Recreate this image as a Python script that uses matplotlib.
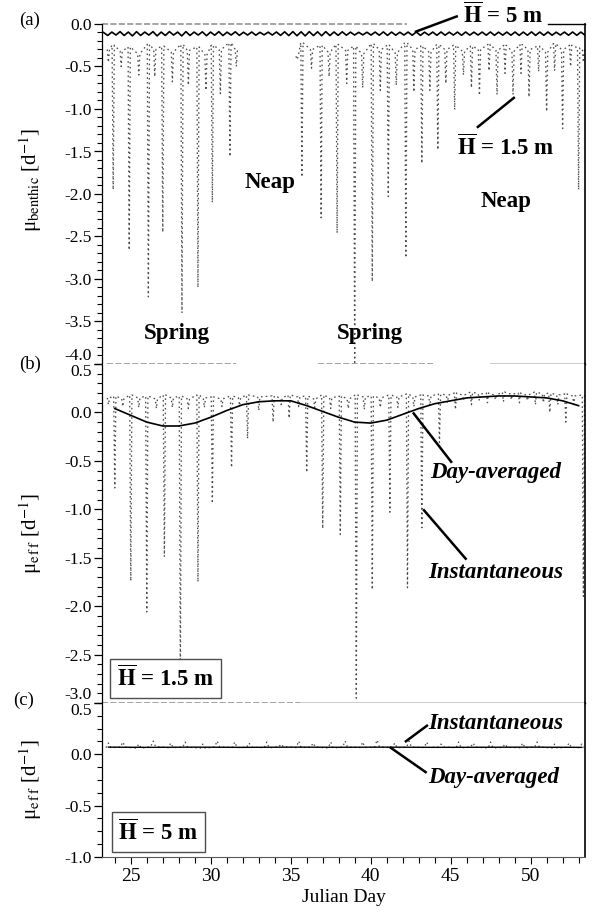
import numpy as np
import matplotlib
matplotlib.use("Agg")
import matplotlib.pyplot as plt
from matplotlib.ticker import MultipleLocator

plt.rcParams['font.family'] = ['Liberation Serif', 'DejaVu Serif']
plt.rcParams['mathtext.fontset'] = 'stix'

# ---------------- data ----------------
# Panel (a): benthic growth, H = 5 m (tidal wiggle, regularly sampled extremes)
benthic5_val = [
    -0.100, -0.135, -0.095, -0.130, -0.090, -0.135, -0.095, -0.140, -0.090, -0.135,
    -0.095, -0.130, -0.090, -0.140, -0.095, -0.135, -0.090, -0.130, -0.095, -0.140,
    -0.090, -0.135, -0.095, -0.130, -0.092, -0.138, -0.095, -0.132, -0.090, -0.136,
    -0.096, -0.130, -0.092, -0.134, -0.097, -0.130, -0.094, -0.132, -0.098, -0.128,
    -0.096, -0.130, -0.094, -0.134, -0.092, -0.136, -0.090, -0.138, -0.092, -0.140,
    -0.090, -0.136, -0.092, -0.138, -0.090, -0.136, -0.094, -0.134, -0.092, -0.132,
    -0.096, -0.130, -0.098, -0.128, -0.097, -0.130, -0.095, -0.132, -0.093, -0.134,
    -0.095, -0.132, -0.097, -0.130, -0.095, -0.132, -0.094, -0.134, -0.096, -0.130,
    -0.095, -0.133, -0.094, -0.132, -0.096, -0.130, -0.095, -0.133, -0.094, -0.131,
    -0.096, -0.130, -0.095, -0.132, -0.094, -0.133, -0.096, -0.131, -0.095, -0.132,
    -0.094, -0.134, -0.095, -0.132, -0.093, -0.134, -0.095, -0.133, -0.094, -0.132,
    -0.096, -0.130, -0.095, -0.132, -0.094, -0.133, -0.095, -0.132,
]
benthic5_start, benthic5_end = 23.3, 53.4

# Panel (a): benthic growth, H = 1.5 m (daily dips; NaN = gap at neap)
nan = np.nan
benthic15_day = [23.6, 23.9, 24.4, 24.9, 25.5, 26.1, 26.5, 27.0, 27.6, 28.2, 28.6, 29.2,
                 29.7, 30.1, 30.6, 31.2, 31.6, nan,
                 35.4, 35.7, 36.3, 36.9, 37.4, 37.9, 38.5, 39.0, 39.5, 40.1, 40.6, 41.1,
                 41.6, 42.2, 42.7, 43.2, 43.7, 44.2, 44.7, 45.25, 45.8, 46.3, 46.8, 47.4,
                 47.9, 48.4, 48.9, 49.4, 49.9, 50.5, 51.0, 51.5, 52.0, 52.5, 53.0, 53.3]
benthic15_min = [-0.45, -1.95, -0.50, -2.66, -0.60, -3.21, -0.62, -2.45, -0.68, -3.40, -0.72, -3.10,
                 -0.78, -2.10, -0.82, -1.56, -0.50, nan,
                 -0.42, -1.80, -0.52, -2.28, -0.62, -2.46, -0.70, -3.98, -0.75, -3.03, -0.78, -2.03,
                 -0.72, -2.75, -0.80, -1.64, -0.78, -1.48, -0.70, -1.01, -0.60, -0.75, -0.84, -0.55,
                 -0.83, -0.58, -0.83, -0.58, -0.86, -0.56, -1.03, -0.55, -1.23, -0.50, -1.95, -0.45]
benthic15_top = [-0.30, -0.25, -0.32, -0.27, -0.35, -0.24, -0.30, -0.26, -0.33, -0.24, -0.31, -0.27,
                 -0.36, -0.25, -0.30, -0.22, -0.30, nan,
                 -0.38, -0.22, -0.30, -0.25, -0.33, -0.24, -0.31, -0.26, -0.35, -0.23, -0.30, -0.25,
                 -0.34, -0.22, -0.30, -0.26, -0.33, -0.24, -0.30, -0.25, -0.32, -0.26, -0.30, -0.24,
                 -0.31, -0.25, -0.32, -0.24, -0.30, -0.26, -0.33, -0.23, -0.30, -0.25, -0.28, -0.30]

# Panel (b): effective growth, H = 1.5 m
eff15_day = [23.6, 24.0, 24.5, 25.0, 25.5, 26.0, 26.6, 27.1, 27.6, 28.1,
             28.6, 29.2, 29.6, 30.1, 30.7, 31.3, 31.8, 32.3, 33.0, 33.9,
             34.4, 34.9, 35.5, 36.0, 36.5, 37.0, 37.5, 38.1, 38.6, 39.1,
             39.6, 40.1, 40.6, 41.2, 41.7, 42.3, 42.7, 43.2, 43.7, 44.3,
             44.8, 45.3, 45.8, 46.3, 46.8, 47.3, 47.8, 48.3, 48.8, 49.3,
             49.8, 50.3, 50.8, 51.2, 51.7, 52.2, 52.7, 53.3]
eff15_min = [0.08, -0.78, 0.06, -1.74, 0.05, -2.06, 0.04, -1.49, 0.05, -2.75,
             0.04, -1.75, 0.05, -0.94, 0.06, -0.57, 0.07, -0.27, 0.02, -0.10,
             0.08, -0.06, 0.06, -0.62, 0.05, -1.20, 0.04, -1.26, 0.04, -2.95,
             0.03, -1.83, 0.05, -1.03, 0.05, -1.81, 0.06, -1.19, 0.07, -0.31,
             0.10, 0.03, 0.12, 0.08, 0.12, 0.10, 0.13, 0.11, 0.13, 0.10,
             0.12, 0.08, 0.10, 0.00, 0.08, -0.10, 0.08, -1.90]
eff15_top = [0.15, 0.17, 0.14, 0.18, 0.15, 0.17, 0.14, 0.18, 0.15, 0.17,
             0.14, 0.18, 0.15, 0.16, 0.14, 0.17, 0.15, 0.18, 0.16, 0.17,
             0.15, 0.18, 0.16, 0.17, 0.14, 0.18, 0.15, 0.17, 0.14, 0.18,
             0.16, 0.17, 0.15, 0.18, 0.16, 0.19, 0.16, 0.18, 0.17, 0.19,
             0.18, 0.20, 0.18, 0.21, 0.19, 0.20, 0.18, 0.21, 0.19, 0.20,
             0.18, 0.21, 0.19, 0.20, 0.18, 0.19, 0.17, 0.18]
avg15_day = [24, 25, 26, 27, 28, 29, 30, 31, 32, 33, 34, 35, 36, 37, 38,
             39, 40, 41, 42, 43, 44, 45, 46, 47, 48, 49, 50, 51, 52, 53]
avg15_val = [0.04, -0.03, -0.10, -0.14, -0.14, -0.11, -0.05, 0.02, 0.08, 0.11,
             0.12, 0.12, 0.07, 0.01, -0.05, -0.10, -0.11, -0.08, -0.02, 0.04,
             0.09, 0.12, 0.15, 0.16, 0.17, 0.17, 0.16, 0.15, 0.12, 0.07]

# Panel (c): effective growth, H = 5 m
eff5_day = [23.6, 24.5, 25.5, 26.4, 27.5, 28.4, 29.5, 30.4, 31.5, 32.4,
            33.5, 34.4, 35.5, 36.4, 37.5, 38.4, 39.5, 40.4, 41.5, 42.4,
            43.5, 44.4, 45.5, 46.4, 47.5, 48.4, 49.5, 50.4, 51.5, 52.4, 53.2]
eff5_peak = [0.11, 0.12, 0.10, 0.13, 0.11, 0.12, 0.10, 0.13, 0.12, 0.11,
             0.12, 0.10, 0.13, 0.11, 0.12, 0.13, 0.12, 0.14, 0.11, 0.13,
             0.12, 0.10, 0.12, 0.11, 0.12, 0.10, 0.11, 0.12, 0.10, 0.11, 0.10]
eff5_base = [0.065, 0.070, 0.060, 0.075, 0.065, 0.070, 0.060, 0.072, 0.066, 0.070,
             0.064, 0.072, 0.066, 0.070, 0.062, 0.070, 0.066, 0.072, 0.064, 0.070,
             0.066, 0.072, 0.064, 0.070, 0.062, 0.068, 0.064, 0.070, 0.062, 0.068, 0.065]
avg5_day = [23.6, 26, 29, 32, 35, 38, 41, 44, 47, 50, 53.2]
avg5_val = [0.07, 0.068, 0.07, 0.068, 0.07, 0.069, 0.07, 0.068, 0.069, 0.07, 0.068]

x_ticks = [25, 30, 35, 40, 45, 50]
a_yticks = [-4.0, -3.5, -3.0, -2.5, -2.0, -1.5, -1.0, -0.5, 0.0]
b_yticks = [-3.0, -2.5, -2.0, -1.5, -1.0, -0.5, 0.0, 0.5]
c_yticks = [-1.0, -0.5, 0.0, 0.5]


def spike_path(days, ext, base, hw=0.07):
    xs, ys = [], []
    for d, m, t in zip(days, ext, base):
        if np.isnan(d):
            xs.append(np.nan)
            ys.append(np.nan)
            continue
        xs += [d - hw, d, d + hw]
        ys += [t, m, t]
    return xs, ys


# ---------------- figure ----------------
W, H = 594, 923
fig = plt.figure(figsize=(W / 100, H / 100), dpi=100)
L, R = 102, 585
axA = fig.add_axes([L / W, 1 - 364 / H, (R - L) / W, 340 / H])
axB = fig.add_axes([L / W, 1 - 703 / H, (R - L) / W, 339 / H])
axC = fig.add_axes([L / W, 1 - 857 / H, (R - L) / W, 154 / H])

dot_ls = (0, (1.2, 2.4))
dot_col = '0.3'

# (a)
t5 = np.linspace(benthic5_start, benthic5_end, len(benthic5_val))
axA.plot(t5, benthic5_val, color='k', lw=1.2)
xa, ya = spike_path(benthic15_day, benthic15_min, benthic15_top)
axA.plot(xa, ya, color=dot_col, lw=0.95, ls=dot_ls)
axA.set_ylim(-4.0, 0.0)

# (b)
xb, yb = spike_path(eff15_day, eff15_min, eff15_top)
axB.plot(xb, yb, color=dot_col, lw=0.95, ls=dot_ls)
axB.plot(avg15_day, avg15_val, color='k', lw=1.2)
axB.set_ylim(-3.0, 0.5)

# (c)
xc, yc = spike_path(eff5_day, eff5_peak, eff5_base, hw=0.15)
axC.plot(xc, yc, color=dot_col, lw=0.9, ls=dot_ls)
axC.plot(avg5_day, avg5_val, color='k', lw=1.0)
axC.set_ylim(-1.0, 0.5)

for ax, yt, minor in ((axA, a_yticks, 0.1), (axB, b_yticks, 0.1), (axC, c_yticks, 0.125)):
    ax.set_xlim(23.2, 53.4)
    ax.set_yticks(yt, [f"{v:.1f}" if v != 0 else "0.0" for v in yt])
    ax.yaxis.set_minor_locator(MultipleLocator(minor))
    ax.tick_params(axis='y', which='major', direction='out', length=6, width=0.9,
                   labelsize=12.5, pad=1.5)
    ax.tick_params(axis='y', which='minor', direction='out', length=3.5, width=0.8)
    ax.spines['left'].set_linewidth(0.9)
    ax.spines['right'].set_linewidth(1.2)
    ax.spines['top'].set_visible(False)
    ax.spines['bottom'].set_visible(False)

for ax in (axA, axB):
    ax.set_xticks([])
axC.set_xticks(x_ticks, [str(v) for v in x_ticks])
axC.xaxis.set_minor_locator(MultipleLocator(1))
axC.tick_params(axis='x', which='major', direction='out', length=5, width=0.8, labelsize=14, pad=3)
axC.tick_params(axis='x', which='minor', direction='out', length=4, width=0.8)
axC.spines['bottom'].set_visible(True)
axC.spines['bottom'].set_color('0.35')
axC.set_xlabel('Julian Day', fontsize=14, labelpad=3)

# squeezed end labels as in the original
axA.get_yticklabels()[0].set_verticalalignment('bottom')
axB.get_yticklabels()[-1].set_verticalalignment('top')
axB.get_yticklabels()[0].set_verticalalignment('bottom')
axC.get_yticklabels()[-1].set_verticalalignment('top')

# frame lines (partly faint in the original scan)
def hline(ax, y, x0, x1, faint):
    ax.plot([x0, x1], [y, y], transform=ax.get_xaxis_transform(), clip_on=False,
            color='0.55' if faint else 'k', lw=1.1 if faint else 1.0,
            ls=(0, (4, 1.5)) if faint else '-')

hline(axA, 1, 23.2, 42.25, True)
hline(axA, 1, 51.1, 53.4, False)
hline(axA, 0, 23.5, 31.6, True)
hline(axA, 0, 36.7, 43.9, True)
hline(axA, 0, 47.45, 53.4, False)
hline(axB, 0, 23.2, 35.6, True)
hline(axB, 0, 35.6, 53.4, False)

# axis labels (upright mu as in the original)
axA.set_ylabel('μ' + r'$_{\mathrm{benthic}}$' + ' [d' + r'$^{-1}$' + ']', fontsize=15)
axB.set_ylabel('μ' + r'$_{\mathrm{e\,f\,f}}$' + ' [d' + r'$^{-1}$' + ']', fontsize=15)
axC.set_ylabel('μ' + r'$_{\mathrm{e\,f\,f}}$' + ' [d' + r'$^{-1}$' + ']', fontsize=15)
axA.yaxis.set_label_coords(-0.12, 0.54)
axB.yaxis.set_label_coords(-0.12, 0.5)
axC.yaxis.set_label_coords(-0.12, 0.5)

# panel letters
fig.text(30 / W, 1 - 20 / H, '(a)', fontsize=13.5, ha='center', va='center')
fig.text(30 / W, 1 - 364 / H, '(b)', fontsize=13.5, ha='center', va='center')
fig.text(24 / W, 1 - 700 / H, '(c)', fontsize=13.5, ha='center', va='center')

# text annotations
bold = dict(fontsize=16.5, fontweight='bold')
bi = dict(fontsize=16.5, fontweight='bold', style='italic')
Hbar = r'$\mathbf{\overline{H}}$'

def seg(ax, x0, y0, x1, y1):
    ax.plot([x0, x1], [y0, y1], color='k', lw=1.8, clip_on=False, solid_capstyle='butt')

axA.text(45.76, 0.106, Hbar + ' = 5 m', ha='left', va='center', clip_on=False, **bold)
seg(axA, 42.76, -0.094, 45.45, 0.094)
axA.text(45.39, -1.447, Hbar + ' = 1.5 m', ha='left', va='center', **bold)
seg(axA, 46.64, -1.22, 49.01, -0.86)
axA.text(33.7, -1.86, 'Neap', ha='center', va='center', **bold)
axA.text(48.45, -2.09, 'Neap', ha='center', va='center', **bold)
axA.text(27.9, -3.64, 'Spring', ha='center', va='center', **bold)
axA.text(39.95, -3.64, 'Spring', ha='center', va='center', **bold)

axB.text(43.7, -0.62, 'Day-averaged', ha='left', va='center', **bi)
seg(axB, 42.64, 0.0, 45.08, -0.52)
axB.text(43.57, -1.65, 'Instantaneous', ha='left', va='center', **bi)
seg(axB, 43.28, -1.0, 45.99, -1.52)
axB.text(0.131, 0.072, Hbar + ' = 1.5 m', transform=axB.transAxes, ha='center', va='center',
         bbox=dict(boxstyle='square,pad=0.3', fc='white', ec='0.3', lw=1.0), **bold)

axC.text(43.58, 0.305, 'Instantaneous', ha='left', va='center', **bi)
seg(axC, 42.14, 0.12, 43.58, 0.286)
axC.text(43.58, -0.23, 'Day-averaged', ha='left', va='center', **bi)
seg(axC, 41.2, 0.07, 43.5, -0.18)
axC.text(0.117, 0.162, Hbar + ' = 5 m', transform=axC.transAxes, ha='center', va='center',
         bbox=dict(boxstyle='square,pad=0.3', fc='white', ec='0.3', lw=1.0), **bold)

fig.savefig('out.png', dpi=100)
